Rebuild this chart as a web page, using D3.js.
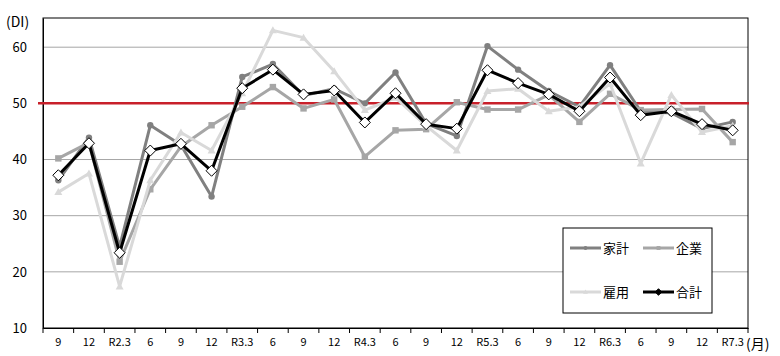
<!DOCTYPE html>
<html><head><meta charset="utf-8">
<script src="https://cdn.jsdelivr.net/npm/d3@7"></script>
<style>
html,body{margin:0;padding:0;background:#fff;}
svg{display:block;font-family:"Noto Sans CJK JP","Noto Sans",sans-serif;}
</style></head>
<body><svg id="c" width="780" height="356"></svg>
<script>
const categories = ["9","12","R2.3","6","9","12","R3.3","6","9","12","R4.3","6","9","12","R5.3","6","9","12","R6.3","6","9","12","R7.3"];
const household = [36.3,43.9,24.5,46.1,42.6,33.4,54.7,57.0,51.4,52.6,50.0,55.5,46.4,44.2,60.2,56.0,52.2,49.4,56.8,48.6,48.3,45.5,46.7];
const corporate = [40.2,43.0,21.8,34.7,42.3,46.1,49.4,52.9,49.1,50.7,40.5,45.2,45.4,50.2,48.9,48.9,51.5,46.7,51.7,48.8,48.9,49.0,43.1];
const employment = [34.2,37.5,17.4,36.3,44.8,41.6,51.8,63.0,61.7,55.7,48.8,51.0,46.0,41.6,52.2,52.6,48.6,49.4,53.5,39.3,51.5,44.9,46.0];
const total = [37.2,42.9,23.4,41.6,42.8,38.0,52.7,56.0,51.6,52.3,46.6,51.8,46.3,45.5,55.9,53.6,51.6,48.6,54.6,47.9,48.6,46.3,45.2];
const yTicks = [10,20,30,40,50,60];
const seriesNames = ["家計","企業","雇用","合計"];
const referenceLevel = 50;

const svg = d3.select("#c");
const L = 43, R = 748, T = 18, B = 328;
const idx = categories.map((d,i)=>i);
const x = d3.scaleBand().domain(idx).range([L,R]).padding(0);
const y = d3.scaleLinear().domain([10,65.2]).range([B,T]);
const cx = i => x(i) + x.bandwidth()/2;

// gridlines
svg.append("g").selectAll("line").data(yTicks.filter(v=>v>10)).join("line")
  .attr("x1",L).attr("x2",R).attr("y1",d=>y(d)).attr("y2",d=>y(d))
  .attr("stroke","#a6a6a6").attr("stroke-width",1);

// frame
svg.append("rect").attr("x",L).attr("y",T).attr("width",R-L).attr("height",B-T)
  .attr("fill","none").attr("stroke","#000").attr("stroke-width",1);

// y axis
const ya = svg.append("g").attr("transform",`translate(${L},0)`)
  .call(d3.axisLeft(y).tickValues(yTicks).tickSize(0).tickPadding(16));
ya.select(".domain").attr("stroke","#000");
ya.selectAll("text").attr("font-size",13).attr("fill","#000")
  .attr("font-family",'"Noto Sans CJK JP","Noto Sans",sans-serif');

// x axis
const xa = svg.append("g").attr("transform",`translate(0,${B})`)
  .call(d3.axisBottom(x).tickFormat(i=>categories[i]).tickSize(0).tickPadding(10));
xa.select(".domain").attr("stroke","#000");
xa.selectAll("text").attr("font-size",11).attr("fill","#000")
  .attr("font-family",'"Noto Sans CJK JP","Noto Sans",sans-serif');
// boundary tick marks
const bounds = idx.map(i=>x(i)).concat([R]);
svg.append("g").selectAll("line").data(bounds).join("line")
  .attr("x1",d=>d).attr("x2",d=>d).attr("y1",B).attr("y2",B+5)
  .attr("stroke","#000").attr("stroke-width",1);

// unit labels
svg.append("text").attr("x",6).attr("y",27).attr("font-size",14).attr("fill","#000").text("(DI)");
svg.append("text").attr("x",746).attr("y",349).attr("font-size",14).attr("fill","#000").text("(月)");

const line = d3.line().x((d,i)=>cx(i)).y(d=>y(d));
const series = [
  {name:seriesNames[0], data:household, color:"#808080", marker:"circle"},
  {name:seriesNames[1], data:corporate, color:"#a6a6a6", marker:"square"},
  {name:seriesNames[2], data:employment, color:"#d9d9d9", marker:"triangle"},
  {name:seriesNames[3], data:total, color:"#000000", marker:"diamond"}
];

// red reference line
svg.append("line").attr("x1",L-5).attr("x2",R+1).attr("y1",y(referenceLevel)).attr("y2",y(referenceLevel))
  .attr("stroke","#c8202a").attr("stroke-width",2.5);

function drawMarker(g, type, color, px, py, scale){
  const s = scale||1;
  if(type==="circle") g.append("circle").attr("cx",px).attr("cy",py).attr("r",3.2*s).attr("fill",color);
  else if(type==="square") g.append("rect").attr("x",px-3.2*s).attr("y",py-3.2*s).attr("width",6.4*s).attr("height",6.4*s).attr("fill",color);
  else if(type==="triangle") g.append("path").attr("d",`M${px},${py-4*s}L${px+4*s},${py+3*s}L${px-4*s},${py+3*s}Z`).attr("fill",color);
  else if(type==="diamond") g.append("path").attr("d",`M${px},${py-5.5*s}L${px+5.5*s},${py}L${px},${py+5.5*s}L${px-5.5*s},${py}Z`)
    .attr("fill",s<1?"#000":"#fff").attr("stroke","#000").attr("stroke-width",1);
}

series.forEach(s=>{
  const g = svg.append("g");
  g.append("path").datum(s.data).attr("d",line).attr("fill","none")
    .attr("stroke",s.color).attr("stroke-width",3).attr("stroke-linejoin","round");
  s.data.forEach((v,i)=>drawMarker(g,s.marker,s.color,cx(i),y(v),1));
});

// legend
const lg = svg.append("g");
lg.append("rect").attr("x",563).attr("y",228).attr("width",149).attr("height",85)
  .attr("fill","#fff").attr("stroke","#000").attr("stroke-width",1);
const pos = [[570,248],[643,248],[570,292],[643,292]];
series.forEach((s,k)=>{
  const [lx,ly] = pos[k];
  lg.append("line").attr("x1",lx).attr("x2",lx+31).attr("y1",ly).attr("y2",ly)
    .attr("stroke",s.color).attr("stroke-width",3);
  drawMarker(lg,s.marker,s.color,lx+15.5,ly,0.6);
  lg.append("text").attr("x",lx+33).attr("y",ly+5).attr("font-size",13).attr("fill","#000").text(s.name);
});
</script></body></html>
